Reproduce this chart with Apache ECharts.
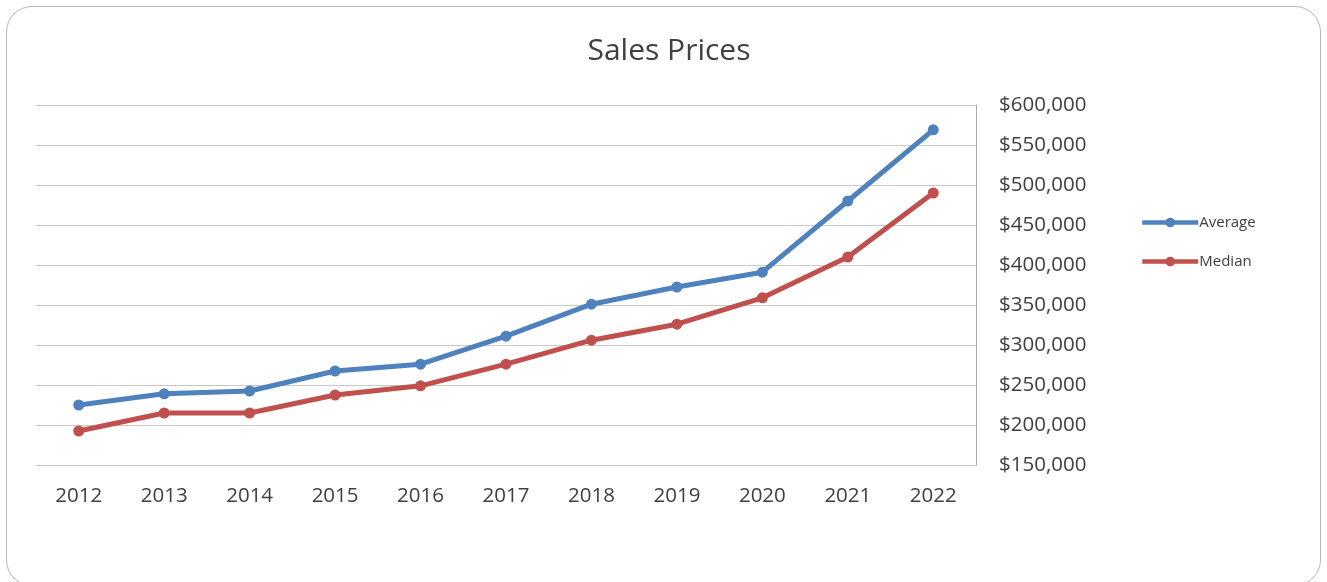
<!DOCTYPE html>
<html>
<head>
<meta charset="utf-8">
<script src="https://cdn.jsdelivr.net/npm/echarts@6/dist/echarts.min.js"></script>
<style>
  html, body { margin: 0; padding: 0; background: #fff; }
  #frame {
    position: absolute; left: 6px; top: 6px; width: 1315px; height: 580px;
    border: 1.5px solid #b8b8b8; border-radius: 26px; box-sizing: border-box;
  }
  #chart { position: absolute; left: 0; top: 0; width: 1327px; height: 582px; }
</style>
</head>
<body>
<div id="frame"></div>
<div id="chart"></div>
<script>
const years = ["2012", "2013", "2014", "2015", "2016", "2017", "2018", "2019", "2020", "2021", "2022"];
const average = [225000, 239000, 242500, 267500, 276000, 311000, 351000, 372500, 391000, 480000, 569000];
const median = [192500, 215000, 215000, 237500, 249000, 276000, 306000, 326000, 359000, 410000, 490000];

const fmt = (v) => "$" + v.toLocaleString("en-US");
const font = "'Open Sans', 'Noto Sans', sans-serif";

const chart = echarts.init(document.getElementById("chart"));

const lineSeries = (name, data, color) => ({
  name,
  type: "line",
  data,
  symbol: "circle",
  symbolSize: 11,
  lineStyle: { width: 5, color },
  itemStyle: { color },
  emphasis: { disabled: true },
  animation: false,
});

chart.setOption({
  textStyle: { fontFamily: font },
  title: {
    text: "Sales Prices",
    left: 664,
    top: 31,
    textAlign: "center",
    textStyle: { fontSize: 30, fontWeight: "normal", color: "#404040", fontFamily: font },
  },
  legend: {
    orient: "vertical",
    left: 1140,
    top: 215,
    padding: 0,
    itemWidth: 56,
    itemHeight: 12,
    itemGap: 24,
    lineStyle: { width: 4.5 },
    textStyle: { fontSize: 15, color: "#404040", padding: [0, 0, 0, -4] },
    data: ["Average", "Median"],
  },
  grid: { left: 36, right: 351, top: 105, bottom: 117 },
  xAxis: {
    type: "category",
    data: years,
    boundaryGap: true,
    axisLine: { show: false },
    axisTick: { show: false },
    axisLabel: { fontSize: 20.5, color: "#404040", margin: 21 },
  },
  yAxis: {
    type: "value",
    position: "right",
    min: 150000,
    max: 600000,
    interval: 50000,
    axisLine: { show: true, lineStyle: { color: "#a6a6a6", width: 1 } },
    axisTick: { show: false },
    splitLine: { lineStyle: { color: "#c8c8c8", width: 1.2 } },
    axisLabel: { fontSize: 20.5, color: "#404040", margin: 23, formatter: fmt },
  },
  series: [
    lineSeries("Average", average, "#4f81bd"),
    lineSeries("Median", median, "#c0504d"),
  ],
});
</script>
</body>
</html>
